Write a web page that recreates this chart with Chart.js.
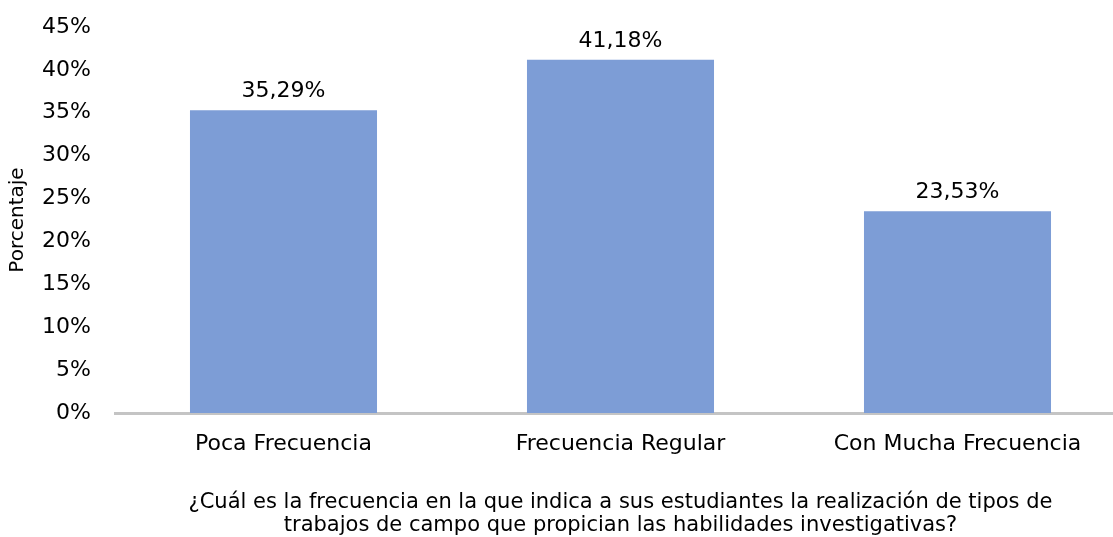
<!DOCTYPE html>
<html>
<head>
<meta charset="utf-8">
<script src="https://cdn.jsdelivr.net/npm/chart.js@4/dist/chart.umd.min.js"></script>
<style>
  html, body { margin: 0; padding: 0; background: #fff; overflow: hidden; }
</style>
</head>
<body>
<canvas id="chart" width="1126" height="537"></canvas>
<script>
const categories = ['Poca Frecuencia', 'Frecuencia Regular', 'Con Mucha Frecuencia'];
const values = [35.29, 41.18, 23.53];
const valueLabels = ['35,29%', '41,18%', '23,53%'];
const yTicks = [0, 5, 10, 15, 20, 25, 30, 35, 40, 45];
const xTitle = ['¿Cuál es la frecuencia en la que indica a sus estudiantes la realización de tipos de',
                'trabajos de campo que propician las habilidades investigativas?'];
const yTitle = 'Porcentaje';

const FONT = 'DejaVu Sans';
const barColor = '#7d9dd6';

// simple value labels above each bar
const barLabels = {
  id: 'barLabels',
  afterDatasetsDraw(chart) {
    const ctx = chart.ctx;
    const meta = chart.getDatasetMeta(0);
    ctx.save();
    ctx.font = '22px "' + FONT + '"';
    ctx.fillStyle = '#000';
    ctx.textAlign = 'center';
    ctx.textBaseline = 'alphabetic';
    meta.data.forEach((bar, i) => {
      ctx.fillText(valueLabels[i], bar.x, bar.y - 13);
    });
    ctx.restore();
  }
};

new Chart(document.getElementById('chart'), {
  type: 'bar',
  data: {
    labels: categories,
    datasets: [{
      data: values,
      backgroundColor: barColor,
      borderWidth: 0,
      barPercentage: 0.555,
      categoryPercentage: 1
    }]
  },
  options: {
    responsive: false,
    animation: false,
    layout: { padding: { top: 27, right: 0, bottom: 0, left: 0 } },
    plugins: {
      legend: { display: false },
      tooltip: { enabled: false }
    },
    scales: {
      x: {
        grid: { display: false, drawTicks: false },
        border: { display: true, color: '#c4c4c4', width: 3 },
        ticks: { color: '#000', font: { family: FONT, size: 22 }, padding: 18, maxRotation: 0 },
        title: {
          display: true,
          text: xTitle,
          color: '#000',
          font: { family: FONT, size: 21, lineHeight: 1.14 },
          padding: { top: 0, bottom: -1 }
        },
        afterFit(scale) { scale.height = 124; }
      },
      y: {
        min: 0,
        max: 45,
        grid: { display: false, drawTicks: false },
        border: { display: false },
        afterBuildTicks(scale) { scale.ticks = yTicks.map(v => ({ value: v })); },
        ticks: {
          color: '#000',
          font: { family: FONT, size: 22 },
          padding: 24,
          callback: v => v + '%'
        },
        title: {
          display: true,
          text: yTitle,
          color: '#000',
          font: { family: FONT, size: 20 },
          padding: { top: 6, bottom: 0 }
        },
        afterFit(scale) {
          scale.width = 115;
          // tick padding would otherwise push the plot top down
          scale.paddingTop = 0;
          scale.paddingBottom = 0;
        }
      }
    }
  },
  plugins: [barLabels]
});
</script>
</body>
</html>
